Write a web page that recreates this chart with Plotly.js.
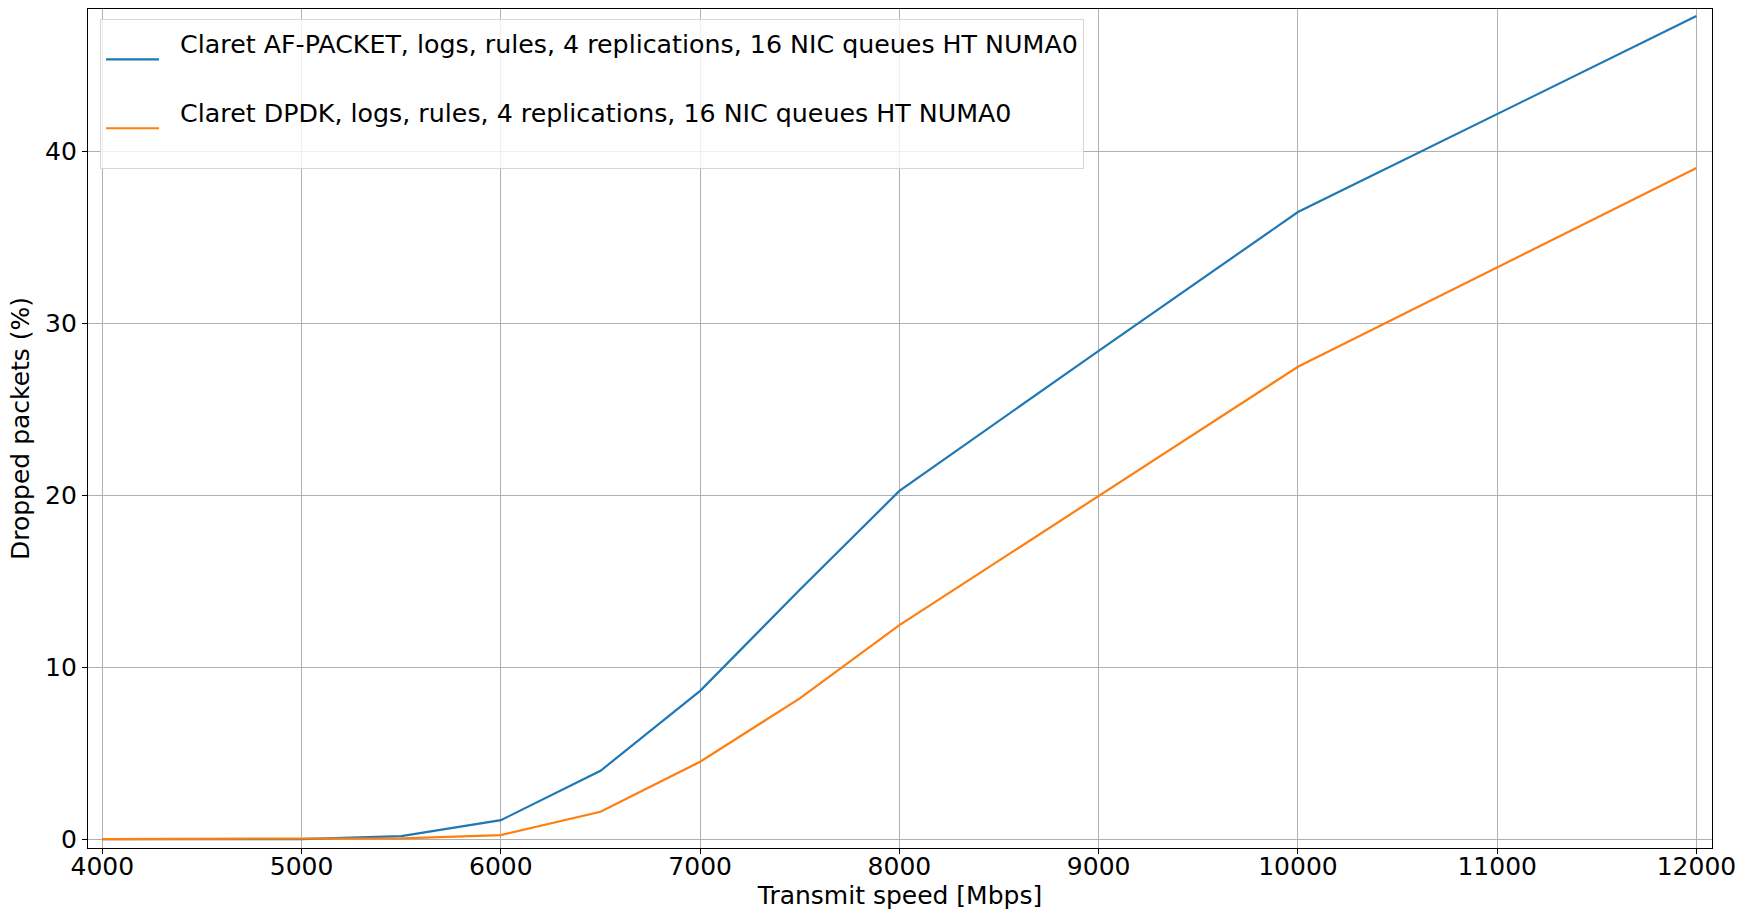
<!DOCTYPE html>
<html>
<head>
<meta charset="utf-8">
<script src="https://cdn.plot.ly/plotly-3.0.1.min.js"></script>
<style>html,body{margin:0;padding:0;background:#fff;}#chart{width:1739px;height:911px;}</style>
</head>
<body>
<div id="chart"></div>
<script>
// Data
const speeds = [4000, 5000, 5500, 6000, 6500, 7000, 7500, 8000, 9000, 10000, 12000];
const afPacketDrops = [0, 0, 0.17, 1.1, 3.97, 8.62, 14.5, 20.25, 28.4, 36.47, 47.87];
const dpdkDrops = [0, 0, 0.04, 0.23, 1.59, 4.5, 8.18, 12.44, 19.98, 27.47, 39.03];
const seriesNames = [
  "Claret AF-PACKET, logs, rules, 4 replications, 16 NIC queues HT NUMA0",
  "Claret DPDK, logs, rules, 4 replications, 16 NIC queues HT NUMA0"
];
const xTicks = [4000, 5000, 6000, 7000, 8000, 9000, 10000, 11000, 12000];
const yTicks = [0, 10, 20, 30, 40];
const xTitle = "Transmit speed [Mbps]";
const yTitle = "Dropped packets (%)";

const FONT = "DejaVu Sans, sans-serif";
const GAP = "\u00a0\u00a0";

const traces = [
  {x: speeds, y: afPacketDrops, name: GAP + seriesNames[0] + "<br> ", type: "scatter", mode: "lines",
   line: {color: "#1f77b4", width: 2.2}},
  {x: speeds, y: dpdkDrops, name: GAP + seriesNames[1] + "<br> ", type: "scatter", mode: "lines",
   line: {color: "#ff7f0e", width: 2.2}}
];

const axisCommon = {
  showline: true, linecolor: "#000", linewidth: 1.1, mirror: true,
  showgrid: true, gridcolor: "#b0b0b0", gridwidth: 1.1,
  zeroline: false, ticks: "outside", ticklen: 5, tickwidth: 1.1, tickcolor: "#000",
  tickfont: {family: FONT, size: 25, color: "#000"},
  automargin: false
};

const layout = {
  width: 1739, height: 911,
  paper_bgcolor: "#fff", plot_bgcolor: "#fff",
  margin: {l: 88, r: 27, t: 9, b: 63},
  font: {family: FONT, color: "#000"},
  showlegend: true,
  legend: {
    x: 0.0074, y: 0.988, xanchor: "left", yanchor: "top",
    bgcolor: "rgba(255,255,255,0.8)", bordercolor: "#d6d6d6", borderwidth: 1,
    font: {family: FONT, size: 25.3, color: "#000"},
    itemwidth: 53, tracegroupgap: 0
  },
  xaxis: Object.assign({}, axisCommon, {
    range: [3928, 12078], tickmode: "array", tickvals: xTicks, ticktext: xTicks.map(String),
    ticklabelstandoff: -9,
    title: {text: xTitle, font: {family: FONT, size: 25, color: "#000"}, standoff: 4}
  }),
  yaxis: Object.assign({}, axisCommon, {
    range: [-0.52, 48.28], tickmode: "array", tickvals: yTicks, ticktext: yTicks.map(String),
    title: {text: yTitle, font: {family: FONT, size: 25, color: "#000"}, standoff: 8}
  })
};

Plotly.newPlot("chart", traces, layout, {staticPlot: true, displayModeBar: false});
</script>
</body>
</html>
